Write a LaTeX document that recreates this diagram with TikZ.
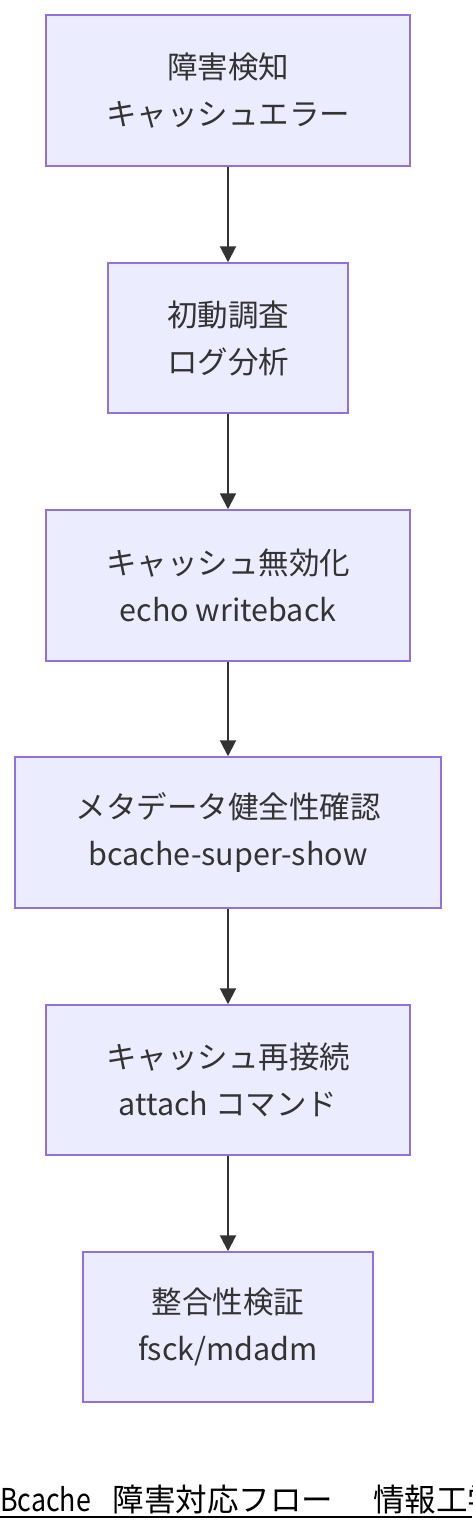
\documentclass[tikz,border=0pt]{standalone}
\usepackage{fontspec}
\setmainfont{Noto Sans CJK JP}
\newfontfamily\capnarrow[FakeStretch=0.85]{Noto Sans CJK JP}
\usetikzlibrary{arrows.meta}
\definecolor{nodefill}{HTML}{ECECFF}
\definecolor{nodeline}{HTML}{9370DB}
\definecolor{ink}{HTML}{333333}
\begin{document}
\begin{tikzpicture}[x=1pt,y=-1pt,
  box/.style={draw=nodeline, fill=nodefill, line width=1.5pt, inner sep=0pt,
    align=center, text=ink, font=\fontsize{30.5}{47}\selectfont},
  flow/.style={draw=ink, line width=2pt, -{Triangle[length=16pt,width=16pt]}}]
\useasboundingbox (0,0) rectangle (472,1532);
\node[box, minimum width=364, minimum height=151] (n1) at (228,90.5) {障害検知\\キャッシュエラー};
\node[box, minimum width=240, minimum height=150] (n2) at (228,338) {初動調査\\ログ分析};
\node[box, minimum width=364, minimum height=151] (n3) at (228,585.5) {キャッシュ無効化\\echo writeback};
\node[box, minimum width=426, minimum height=151] (n4) at (228,832.5) {メタデータ健全性確認\\bcache-super-show};
\node[box, minimum width=364, minimum height=150] (n5) at (228,1080) {キャッシュ再接続\\attach コマンド};
\node[box, minimum width=290, minimum height=150] (n6) at (228,1327) {整合性検証\\fsck/mdadm};
\draw[flow] (n1) -- (n2);
\draw[flow] (n2) -- (n3);
\draw[flow] (n3) -- (n4);
\draw[flow] (n4) -- (n5);
\draw[flow] (n5) -- (n6);
\node[anchor=base west, inner sep=0pt, font=\fontsize{31.5}{34}\selectfont] (cap) at (0,1511)
  {{\capnarrow Bcache}\hspace{22pt}障害対応フロー\hspace{40pt}情報工学};
\draw[line width=2pt] (0,1517) -- (472,1517);
\end{tikzpicture}
\end{document}
